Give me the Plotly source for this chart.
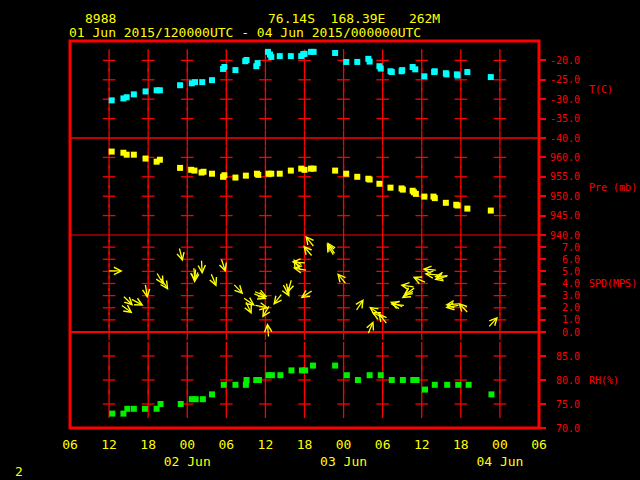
import math
import plotly.graph_objects as go

# ---------------- data (hours since 2015-06-01 00:00 UTC) ----------------
T_HOURS = [12.4, 14.2, 14.7, 15.8, 17.6, 19.3, 19.8, 22.9, 24.7, 25.2, 26.3, 27.8, 29.5, 29.7,
           31.4, 32.9, 33.1, 34.6, 34.8, 36.4, 36.7, 36.9, 38.2, 39.9, 41.5, 41.8, 42.0, 43.0,
           43.4, 46.7, 48.4, 50.1, 51.8, 52.0, 53.5, 53.7, 55.2, 55.4, 56.9, 57.0, 58.6, 59.0,
           60.4, 61.9, 62.0, 63.7, 63.8, 65.4, 65.5, 67.0, 70.6]
T_VALS = [-30.3, -29.8, -29.5, -28.75, -28.0, -27.7, -27.7, -26.4, -25.9, -25.6, -25.6, -25.1,
          -22.2, -21.7, -22.5, -20.2, -19.9, -21.5, -20.7, -17.8, -18.5, -19.1, -18.9, -18.9,
          -18.9, -18.4, -18.3, -17.8, -17.8, -18.1, -20.4, -20.4, -19.6, -20.3, -21.5, -22.1,
          -22.8, -23.0, -22.8, -22.5, -21.7, -22.3, -24.1, -23.0, -22.8, -23.3, -23.6, -23.6,
          -23.9, -23.0, -24.3]

P_HOURS = [12.4, 14.2, 14.7, 15.8, 17.6, 19.3, 19.8, 22.9, 24.6, 25.1, 26.2, 26.5, 27.8, 29.5,
           29.7, 31.4, 33.0, 34.7, 34.9, 36.5, 36.9, 38.2, 39.9, 41.5, 42.0, 43.0, 43.4, 46.7,
           48.4, 50.1, 51.8, 52.0, 53.5, 55.2, 56.9, 57.1, 58.6, 58.8, 59.1, 60.4, 61.8, 62.0,
           63.7, 65.3, 65.5, 67.0, 70.6]
P_VALS = [961.5, 961.2, 960.7, 960.7, 959.7, 958.9, 959.4, 957.3, 956.8, 956.6, 956.1, 956.3,
          955.8, 955.0, 955.4, 954.8, 955.3, 955.8, 955.5, 955.8, 955.8, 955.8, 956.6, 957.1,
          956.8, 957.1, 957.1, 956.6, 955.8, 955.0, 954.5, 954.3, 953.2, 952.2, 952.0, 951.7,
          951.4, 951.0, 950.6, 949.9, 949.9, 949.5, 948.3, 947.8, 947.6, 946.8, 946.3]

RH_HOURS = [12.5, 14.2, 14.8, 15.8, 17.5, 19.3, 19.9, 23.0, 24.7, 25.3, 26.4, 27.8, 29.6, 31.4,
            33.0, 33.1, 34.6, 35.0, 36.5, 37.0, 38.3, 40.0, 41.6, 42.1, 43.3, 46.7, 48.5, 50.2,
            52.0, 53.7, 55.4, 57.1, 58.7, 59.2, 60.5, 62.0, 63.9, 65.6, 67.2, 70.7]
RH_VALS = [73, 73, 74, 74, 74, 74, 75, 75, 76, 76, 76, 77, 79, 79, 79, 80, 80, 80, 81, 81, 81,
           82, 82, 82, 83, 83, 81, 80, 81, 81, 80, 80, 80, 80, 78, 79, 79, 79, 79, 77]

# wind: arrow-head time, speed (m/s), direction the arrow points to (deg, 0 = north)
WIND_HOURS = [14.1, 15.7, 15.6, 17.3, 17.9, 20.4, 21.1, 23.3, 25.2, 25.1, 26.3, 28.5, 29.9,
              32.6, 36.3, 36.2, 34.4, 33.9, 36.5, 35.5, 36.3, 37.2, 39.4, 41.4, 39.7, 40.0,
              40.2, 40.3, 42.1, 41.8, 45.4, 45.5, 47.0, 51.1, 51.9, 53.3, 52.3, 52.6, 55.1,
              55.2, 56.7, 56.9, 57.2, 58.6, 60.1, 60.4, 61.9, 61.9, 63.6, 63.6, 65.6, 71.7]
WIND_SPD = [5.04, 2.17, 1.55, 2.17, 2.79, 3.88, 3.47, 5.81, 4.16, 4.05, 4.77, 3.74, 4.93,
            3.12, 2.89, 2.73, 2.17, 1.46, 1.98, 1.18, 0.74, 2.23, 3.2, 2.79, 2.89, 5.79,
            5.29, 6.03, 7.93, 7.13, 7.33, 7.4, 4.85, 2.73, 2.09, 1.57, 1.65, 0.91, 2.5,
            2.3, 3.88, 2.79, 2.98, 4.55, 5.2, 4.8, 4.3, 4.55, 2.0, 2.23, 2.42, 1.26]
WIND_DIR_TO = [90, 134, 126, 118, 171, 150, 147, 166, 175, 185, 177, 157, 162,
               136, 113, 112, 124, 155, 101, 211, 355, 218, 196, 237, 153, 275,
               280, 328, 321, 320, 330, 327, 320, 33, 305, 321, 297, 23, 292,
               275, 278, 239, 234, 293, 275, 275, 254, 265, 260, 265, 316, 42]

X_TICKS = [6, 12, 18, 24, 30, 36, 42, 48, 54, 60, 66, 72, 78]
X_TICK_TEXT = ["06", "12", "18", "00<br>02 Jun", "06", "12", "18", "00<br>03 Jun",
               "06", "12", "18", "00<br>04 Jun", "06"]

T_TICKS = [-40, -35, -30, -25, -20]
P_TICKS = [940, 945, 950, 955, 960]
SPD_TICKS = [0, 1, 2, 3, 4, 5, 6, 7]
RH_TICKS = [70, 75, 80, 85]

# ---------------- styling ----------------
RED = "#FF0000"
YEL = "#FFFF00"
FONT = "DejaVu Sans Mono"
W, H = 640, 480
L_M, R_M, T_M, B_M = 70, 101, 41, 52
PH = H - T_M - B_M          # plot height in px
PW = W - L_M - R_M
d1, d2, d3 = 96 / PH, 193 / PH, 290 / PH


def px_x(px):
    return (px - L_M) / PW


def px_y(py):
    return (H - B_M - py) / PH


def tick_text(vals):
    return [f"{v:.1f}".rjust(5, "\u00a0") for v in vals]


fig = go.Figure()

# grid crosses (vertical dashes + short horizontal ticks)
grid_x = X_TICKS[1:-1]
panels = [("y4", T_TICKS[1:], 16, T_TICKS[0]),
          ("y3", P_TICKS[1:], 16, P_TICKS[0]),
          ("y2", SPD_TICKS[1:], 11, SPD_TICKS[0]),
          ("y", RH_TICKS[1:], 20, None)]
for ax, ticks, vsize, sep in panels:
    xs = [gx for gx in grid_x for _ in ticks]
    ys = [tv for _ in grid_x for tv in ticks]
    fig.add_trace(go.Scatter(x=xs, y=ys, yaxis=ax, mode="markers", hoverinfo="skip",
                             cliponaxis=False, showlegend=False,
                             marker=dict(symbol="line-ns", size=vsize,
                                         line=dict(color=RED, width=1.3))))
    fig.add_trace(go.Scatter(x=xs, y=ys, yaxis=ax, mode="markers", hoverinfo="skip",
                             cliponaxis=False, showlegend=False,
                             marker=dict(symbol="line-ew", size=9,
                                         line=dict(color=RED, width=1.3))))
    if sep is not None:
        fig.add_trace(go.Scatter(x=grid_x, y=[sep] * len(grid_x), yaxis=ax, mode="markers",
                                 hoverinfo="skip", cliponaxis=False, showlegend=False,
                                 marker=dict(symbol="line-ns", size=11,
                                             line=dict(color=RED, width=1.3))))

# data series
fig.add_trace(go.Scatter(x=T_HOURS, y=T_VALS, yaxis="y4", mode="markers", showlegend=False,
                         marker=dict(symbol="square", size=6, color="#00FFFF")))
fig.add_trace(go.Scatter(x=P_HOURS, y=P_VALS, yaxis="y3", mode="markers", showlegend=False,
                         marker=dict(symbol="square", size=6, color=YEL)))
fig.add_trace(go.Scatter(x=RH_HOURS, y=RH_VALS, yaxis="y", mode="markers", showlegend=False,
                         marker=dict(symbol="square", size=6, color="#00F000")))

annotations = []
ARROW_LEN = 15
for h, s, d in zip(WIND_HOURS, WIND_SPD, WIND_DIR_TO):
    r = math.radians(d)
    annotations.append(dict(x=h, y=s, xref="x", yref="y2", text="", showarrow=True,
                            arrowhead=5, arrowsize=1.1, arrowwidth=1.3, arrowcolor=YEL,
                            standoff=0, ax=-ARROW_LEN * math.sin(r), ay=ARROW_LEN * math.cos(r)))

# texts
def txt(s, x, y, size=13, color=YEL, xref="paper", yref="paper", height=None):
    a = dict(text=s, x=x, y=y, xref=xref, yref=yref, xanchor="left",
             yanchor="middle", showarrow=False, borderpad=0,
             font=dict(family=FONT, size=size, color=color))
    if height:
        a["height"] = height
    annotations.append(a)

NB = "\u00a0"
txt("8988", px_x(84), px_y(18.5), height=12)
txt(f"76.14S{NB*2}168.39E{NB*3}262M", px_x(267), px_y(18.5), height=12)
txt("01 Jun 2015/120000UTC - 04 Jun 2015/000000UTC", px_x(68), px_y(32), height=12)
txt("2", px_x(14), px_y(472))
txt("T(C)", px_x(588), -27.5, size=10, color=RED, yref="y4")
txt(f"Pre{NB}(mb)", px_x(588), 952.3, size=10, color=RED, yref="y3")
txt("SPD(MPS)", px_x(588), 4.0, size=10, color=RED, yref="y2")
txt("RH(%)", px_x(588), 80.0, size=10, color=RED, yref="y")

shapes = [dict(type="rect", xref="paper", yref="paper", x0=0, x1=1, y0=0, y1=1,
               line=dict(color=RED, width=3))]
for yy, wdt in [(d1, 2), (d2, 1), (d3, 1.5)]:
    shapes.append(dict(type="line", xref="paper", yref="paper", x0=0, x1=1, y0=yy, y1=yy,
                       line=dict(color=RED, width=wdt)))


def yax(domain, rng, ticks):
    return dict(domain=domain, range=rng, anchor="x", side="right", tickvals=ticks,
                ticktext=tick_text(ticks), ticks="outside", ticklen=6, tickwidth=1.5,
                tickcolor=RED, showgrid=False, zeroline=False, showline=False,
                ticklabelstandoff=2, fixedrange=True,
                tickfont=dict(family=FONT, size=10, color=RED))


fig.update_layout(
    width=W, height=H,
    margin=dict(l=L_M, r=R_M, t=T_M, b=B_M),
    paper_bgcolor="black", plot_bgcolor="black",
    font=dict(family=FONT),
    xaxis=dict(range=[6, 78], tickvals=X_TICKS, ticktext=X_TICK_TEXT, showgrid=False,
               zeroline=False, showline=False, ticks="", anchor="y",
               ticklabelstandoff=7, fixedrange=True,
               tickfont=dict(family=FONT, size=13, color=YEL)),
    yaxis=yax([0, d1], [70, 90], RH_TICKS),
    yaxis2=yax([d1, d2], [0, 8], SPD_TICKS),
    yaxis3=yax([d2, d3], [940, 965], P_TICKS),
    yaxis4=yax([d3, 1], [-40, -15], T_TICKS),
    shapes=shapes,
    annotations=annotations,
    showlegend=False,
)

fig.write_html("out.html", config={"displayModeBar": False},
               post_script="document.body.style.margin='0';"
                           "document.body.style.background='black';")
